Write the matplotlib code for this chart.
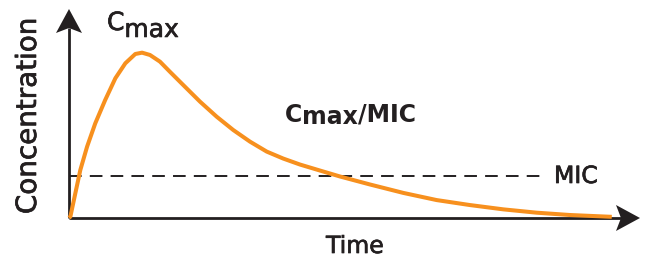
import matplotlib

matplotlib.use("Agg")
from matplotlib import pyplot as plt
from matplotlib import patheffects, transforms
from matplotlib.patches import Polygon

# concentration-time profile (time in h, arbitrary units)
time_h = [0.0, 0.06, 0.28, 0.50, 0.80, 1.16, 1.60, 2.05, 2.49, 2.93, 3.23,
          3.58, 4.02, 4.46, 5.05, 5.79, 6.53, 7.26, 8.00, 8.74, 9.47, 10.21,
          11.09, 11.98, 13.30, 14.78, 16.25, 17.72, 19.20, 20.67, 22.14, 23.99]
conc = [0.0, 0.08, 1.49, 2.89, 4.30, 5.70, 7.11, 8.42, 9.32, 9.88, 9.96,
        9.82, 9.42, 8.81, 8.01, 7.01, 6.10, 5.30, 4.60, 4.00, 3.58, 3.22,
        2.86, 2.50, 2.02, 1.51, 1.08, 0.78, 0.52, 0.32, 0.18, 0.07]
mic_level = 2.55
mic_line_end = 21.0

x_label = "Time"
y_label = "Concentration"
mic_label = "MIC"

W, H = 648, 259
orange = "#f7901e"
dark = "#231f20"
plt.rcParams["font.family"] = ["DejaVu Sans"]
heavier = [patheffects.withStroke(linewidth=0.5, foreground=dark)]

fig = plt.figure(figsize=(W / 100, H / 100), dpi=100)
ax = fig.add_axes([69 / W, 41 / H, (640 - 69) / W, (218 - 9) / H])
ax.set_xlim(0, (640 - 69) / 22.625)
ax.set_ylim(0, (218 - 9) / 16.6)
ax.axis("off")


def fig_xy(px, py):
    return px / W, 1 - py / H


# axes with arrow heads
ax.plot([0, 0], [0, 1 - 19 / 209], transform=ax.transAxes, color=dark,
        lw=2, clip_on=False, solid_capstyle="butt", zorder=3)
ax.plot([0, 1 - 19 / 571], [0, 0], transform=ax.transAxes, color=dark,
        lw=2, clip_on=False, solid_capstyle="butt", zorder=3)
heads = [
    ((0, 1), [(0, 0), (-13, -24), (0, -19), (13, -24)]),
    ((1, 0), [(0, 0), (-24, 13), (-19, 0), (-24, -13)]),
]
for (ax_x, ax_y), verts in heads:
    tr = fig.dpi_scale_trans + transforms.ScaledTranslation(ax_x, ax_y, ax.transAxes)
    ax.add_patch(Polygon([(vx / 100, vy / 100) for vx, vy in verts],
                         closed=True, transform=tr, color=dark, lw=0,
                         clip_on=False, zorder=3))

# MIC line and curve
ax.plot([0, mic_line_end], [mic_level, mic_level], color=dark, lw=1.4,
        dashes=(6.5, 4.2), zorder=2)
ax.plot(time_h, conc, color=orange, lw=2.9, clip_on=False,
        solid_capstyle="butt", solid_joinstyle="round", zorder=4)

# labels
fig.text(*fig_xy(28, 116), y_label, rotation=90, ha="center", va="center",
         fontsize=20, color=dark, path_effects=heavier)
fig.text(*fig_xy(355, 253), x_label, ha="center", va="baseline",
         fontsize=17, color=dark, path_effects=heavier)
fig.text(*fig_xy(554, 183), mic_label, ha="left", va="baseline",
         fontsize=17, color=dark, path_effects=heavier)

c1 = fig.text(*fig_xy(107, 30), "C", ha="left", va="baseline",
              fontsize=18, color=dark, path_effects=heavier)
ax.annotate("max", xy=(1, 0), xycoords=c1, xytext=(0, -5),
            textcoords="offset points", ha="left", va="bottom",
            fontsize=18, color=dark, path_effects=heavier)

c2 = fig.text(*fig_xy(285, 122), "C", ha="left", va="baseline",
              fontsize=17, color=dark, weight="bold")
m2 = ax.annotate("max", xy=(1, 0), xycoords=c2, xytext=(0, -1.5),
                 textcoords="offset points", ha="left", va="bottom",
                 fontsize=17, color=dark, weight="bold")
ax.annotate("/" + mic_label, xy=(1, 0), xycoords=m2, xytext=(0, 1.5),
            textcoords="offset points", ha="left", va="bottom",
            fontsize=17, color=dark, weight="bold")

fig.savefig("out.png", dpi=100)
